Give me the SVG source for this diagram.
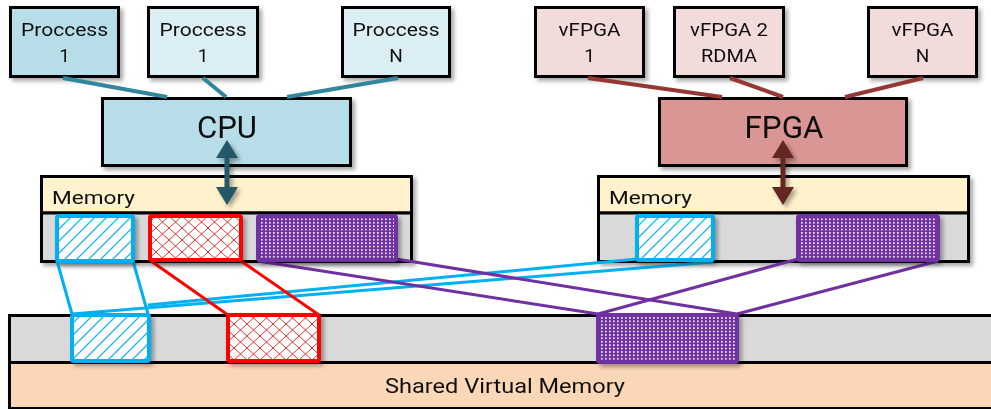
<svg xmlns="http://www.w3.org/2000/svg" width="991" height="409" viewBox="0 0 991 409">
  <defs>
    <style>
      text { font-family: Roboto, "Liberation Sans", "DejaVu Sans", sans-serif; fill: #111; }
      .small { font-size: 19px; text-anchor: middle; }
      .big { font-size: 32px; text-anchor: middle; }
      .mem { font-size: 19px; }
      .box { stroke: #000; stroke-width: 3; }
      .proc-a { fill: #B7DEE8; }
      .proc-b { fill: #DBEEF4; }
      .vf { fill: #F2DCDB; }
      .fpga { fill: #D99694; }
      .hdr { fill: #FFF2CC; }
      .gray { fill: #D9D9D9; }
      .peach { fill: #FBD7B8; }
      .blk-blue { fill: url(#hatch); stroke: #00B0F0; stroke-width: 4; }
      .blk-red { fill: url(#diamond); stroke: #FF0000; stroke-width: 4; }
      .blk-purple { fill: url(#dots); stroke: #7030A0; stroke-width: 4; }
      .link-cpu { stroke: #31859C; stroke-width: 4; fill: none; }
      .link-fpga { stroke: #953735; stroke-width: 4; fill: none; }
      .map-blue { stroke: #00B0F0; stroke-width: 3; fill: none; }
      .map-red { stroke: #FF0000; stroke-width: 3; fill: none; }
      .map-purple { stroke: #7030A0; stroke-width: 3; fill: none; }
      .bus-cpu { stroke: #215968; stroke-width: 5; fill: none; marker-start: url(#headCpu); marker-end: url(#headCpu); }
      .bus-fpga { stroke: #632523; stroke-width: 5; fill: none; marker-start: url(#headFpga); marker-end: url(#headFpga); }
    </style>
    <filter id="shadow" x="-5%" y="-10%" width="115%" height="140%">
      <feDropShadow dx="3" dy="3" stdDeviation="2" flood-color="#000" flood-opacity="0.35"/>
    </filter>
    <!-- canvas-sized region so thin vertical shapes keep their shadow -->
    <filter id="shadowCanvas" filterUnits="userSpaceOnUse" x="0" y="0" width="991" height="409">
      <feDropShadow dx="3" dy="3" stdDeviation="2" flood-color="#000" flood-opacity="0.35"/>
    </filter>
    <pattern id="hatch" patternUnits="userSpaceOnUse" width="12" height="12">
      <rect width="12" height="12" fill="#fff"/>
      <path d="M0,12 L12,0 M-3,3 L3,-3 M9,15 L15,9" stroke="#22B4EE" stroke-width="1.3"/>
    </pattern>
    <pattern id="diamond" patternUnits="userSpaceOnUse" width="13" height="12">
      <rect width="13" height="12" fill="#fff"/>
      <path d="M0,0 L13,12 M13,0 L0,12" stroke="#E00000" stroke-width="0.8"/>
    </pattern>
    <pattern id="dots" patternUnits="userSpaceOnUse" width="4" height="3.4">
      <rect width="4" height="3.4" fill="#7030A0"/>
      <rect x="1" y="1" width="1.7" height="1.5" fill="#fff"/>
    </pattern>
    <marker id="headCpu" markerUnits="userSpaceOnUse" markerWidth="18" markerHeight="22" refX="0" refY="11" orient="auto-start-reverse">
      <path d="M0,0 L18,11 L0,22 z" fill="#215968"/>
    </marker>
    <marker id="headFpga" markerUnits="userSpaceOnUse" markerWidth="18" markerHeight="22" refX="0" refY="11" orient="auto-start-reverse">
      <path d="M0,0 L18,11 L0,22 z" fill="#632523"/>
    </marker>
  </defs>

  <!-- shared virtual memory bands -->
  <g id="shared-memory" filter="url(#shadow)">
    <rect class="box gray" x="9.5" y="315.5" width="990" height="47"/>
    <rect class="box peach" x="9.5" y="362.5" width="990" height="46" stroke-width="2"/>
    <text x="505" y="393" font-size="20" text-anchor="middle" textLength="240" lengthAdjust="spacingAndGlyphs">Shared Virtual Memory</text>
  </g>

  <!-- host memory -->
  <g id="cpu-memory" filter="url(#shadow)">
    <rect class="box hdr" x="41.5" y="176.5" width="370" height="36.5"/>
    <rect class="box gray" x="41.5" y="213" width="370" height="48.5"/>
    <text class="mem" x="52" y="204" textLength="83" lengthAdjust="spacingAndGlyphs">Memory</text>
  </g>

  <!-- card memory -->
  <g id="fpga-memory" filter="url(#shadow)">
    <rect class="box hdr" x="598.5" y="176.5" width="370" height="36.5"/>
    <rect class="box gray" x="598.5" y="213" width="370" height="48.5"/>
    <text class="mem" x="609" y="204" textLength="83" lengthAdjust="spacingAndGlyphs">Memory</text>
  </g>

  <!-- processes -->
  <g id="process-1a" filter="url(#shadow)">
    <rect class="box proc-a" x="10.5" y="7.5" width="108" height="69"/>
    <text class="small" x="64.5" y="36" textLength="87" lengthAdjust="spacingAndGlyphs">Proccess</text>
    <text class="small" x="64.5" y="62">1</text>
  </g>
  <g id="process-1b" filter="url(#shadow)">
    <rect class="box proc-b" x="148.5" y="7.5" width="109" height="69"/>
    <text class="small" x="203" y="36" textLength="87" lengthAdjust="spacingAndGlyphs">Proccess</text>
    <text class="small" x="203" y="62">1</text>
  </g>
  <g id="process-n" filter="url(#shadow)">
    <rect class="box proc-b" x="342.5" y="7.5" width="107" height="69"/>
    <text class="small" x="396" y="36" textLength="87" lengthAdjust="spacingAndGlyphs">Proccess</text>
    <text class="small" x="396" y="62">N</text>
  </g>

  <!-- virtual FPGAs -->
  <g id="vfpga-1" filter="url(#shadow)">
    <rect class="box vf" x="535.5" y="7.5" width="108" height="69"/>
    <text class="small" x="589.5" y="36" textLength="62" lengthAdjust="spacingAndGlyphs">vFPGA</text>
    <text class="small" x="589.5" y="62">1</text>
  </g>
  <g id="vfpga-2" filter="url(#shadow)">
    <rect class="box vf" x="674.5" y="7.5" width="109" height="69"/>
    <text class="small" x="729" y="36" textLength="78" lengthAdjust="spacingAndGlyphs">vFPGA 2</text>
    <text class="small" x="729" y="62" textLength="56" lengthAdjust="spacingAndGlyphs">RDMA</text>
  </g>
  <g id="vfpga-n" filter="url(#shadow)">
    <rect class="box vf" x="868.5" y="7.5" width="108" height="69"/>
    <text class="small" x="922.5" y="36" textLength="62" lengthAdjust="spacingAndGlyphs">vFPGA</text>
    <text class="small" x="922.5" y="62">N</text>
  </g>

  <!-- processors -->
  <g id="cpu" filter="url(#shadow)">
    <rect class="box proc-a" x="102.5" y="98.5" width="248" height="67"/>
    <text class="big" x="227" y="138" textLength="60" lengthAdjust="spacingAndGlyphs">CPU</text>
  </g>
  <g id="fpga" filter="url(#shadow)">
    <rect class="box fpga" x="659.5" y="98.5" width="247" height="67"/>
    <text class="big" x="784" y="138" textLength="79" lengthAdjust="spacingAndGlyphs">FPGA</text>
  </g>

  <!-- links, memory buses and buffer mappings -->
  <g id="connectors">
    <line class="link-cpu" x1="63" y1="78" x2="167" y2="97"/>
    <line class="link-cpu" x1="203" y1="78" x2="226" y2="97"/>
    <line class="link-cpu" x1="398" y1="78" x2="287" y2="97"/>
    <line class="link-fpga" x1="588" y1="78" x2="722" y2="97"/>
    <line class="link-fpga" x1="730" y1="78" x2="783" y2="97"/>
    <line class="link-fpga" x1="923" y1="78" x2="845" y2="97"/>

    <path class="bus-cpu" d="M227,158 L227,187" filter="url(#shadowCanvas)"/>
    <path class="bus-fpga" d="M783,158 L783,187" filter="url(#shadowCanvas)"/>

    <line class="map-blue" x1="57" y1="261" x2="72" y2="314"/>
    <line class="map-blue" x1="133" y1="261" x2="148" y2="314"/>
    <line class="map-blue" x1="637" y1="259" x2="148" y2="305"/>
    <line class="map-blue" x1="713" y1="262" x2="72" y2="314"/>
    <line class="map-red" x1="151" y1="261" x2="228" y2="315"/>
    <line class="map-red" x1="241" y1="261" x2="319" y2="315"/>
    <line class="map-purple" x1="258" y1="261" x2="598" y2="314"/>
    <line class="map-purple" x1="396" y1="259" x2="737" y2="314"/>
    <line class="map-purple" x1="798" y1="259" x2="598" y2="314"/>
    <line class="map-purple" x1="938" y1="261" x2="737" y2="314"/>
  </g>

  <!-- buffers in host memory -->
  <g id="cpu-buf-blue" filter="url(#shadow)"><rect class="blk-blue" x="57" y="216" width="76" height="45" rx="2"/></g>
  <g id="cpu-buf-red" filter="url(#shadow)"><rect class="blk-red" x="150" y="216" width="91" height="44" rx="2"/></g>
  <g id="cpu-buf-purple" filter="url(#shadow)"><rect class="blk-purple" x="258" y="216" width="138" height="44" rx="2"/></g>

  <!-- buffers in card memory -->
  <g id="fpga-buf-blue" filter="url(#shadow)"><rect class="blk-blue" x="637" y="216" width="76" height="44" rx="2"/></g>
  <g id="fpga-buf-purple" filter="url(#shadow)"><rect class="blk-purple" x="798" y="216" width="140" height="44" rx="2"/></g>

  <!-- buffers in shared virtual memory -->
  <g id="svm-buf-blue" filter="url(#shadow)"><rect class="blk-blue" x="72" y="315" width="77" height="46" rx="2"/></g>
  <g id="svm-buf-red" filter="url(#shadow)"><rect class="blk-red" x="228" y="315" width="91" height="46" rx="2"/></g>
  <g id="svm-buf-purple" filter="url(#shadow)"><rect class="blk-purple" x="598" y="315" width="139" height="47" rx="2"/></g>
</svg>
